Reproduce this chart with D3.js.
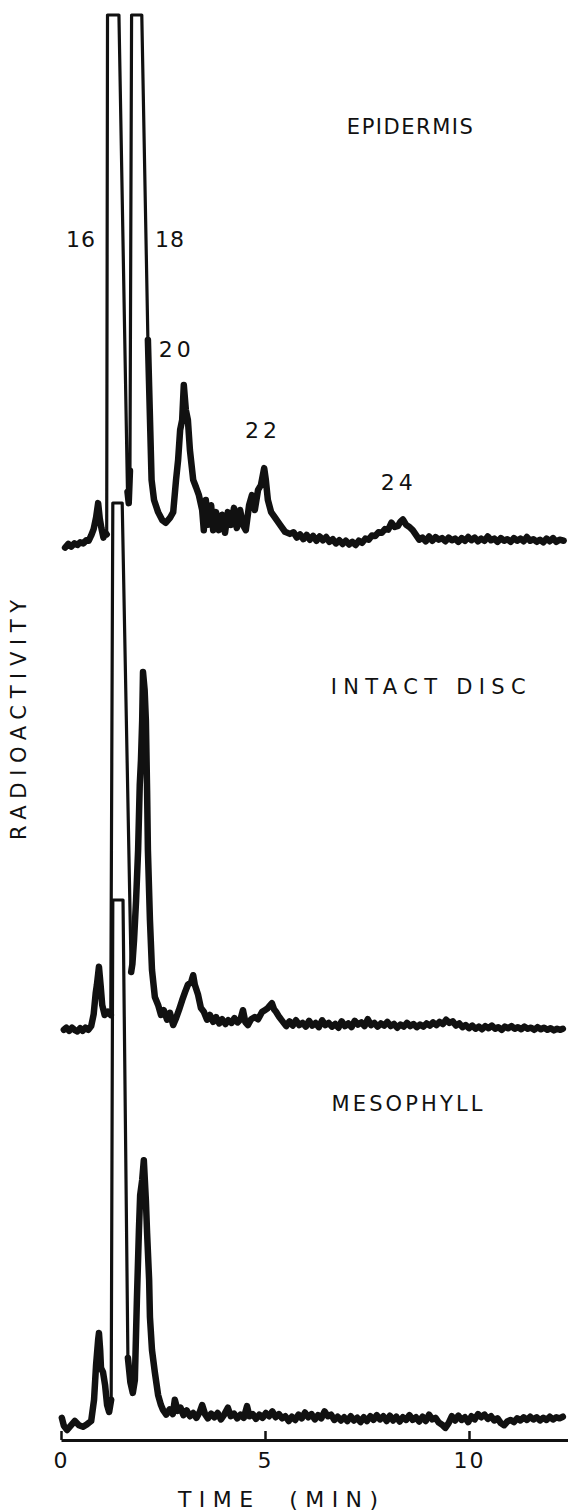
<!DOCTYPE html>
<html>
<head>
<meta charset="utf-8">
<script src="https://cdn.jsdelivr.net/npm/d3@7"></script>
<style>
  body { margin: 0; background: #fff; }
  svg { display: block; }
  text { font-family: "DejaVu Sans", sans-serif; fill: #111; }
</style>
</head>
<body>
<svg id="chart"></svg>
<script>
// radio-GLC traces, time (min) vs relative radioactivity (100 = pen at full scale)
const epidermis = [
  [0.10,-0.5],[0.18,0.2],[0.25,-0.3],[0.33,0.3],[0.40,0.0],[0.47,0.5],[0.55,0.3],[0.62,0.9],[0.68,0.8],
  [0.74,1.8],[0.80,3.0],[0.86,5.2],[0.91,7.9],[0.95,5.0],[0.99,3.2],[1.04,1.4],[1.08,2.4],[1.12,2.0],
  [1.14,100],[1.42,100],[1.63,10],[1.66,7.9],[1.69,14],[1.73,100],[1.98,100],
  [2.13,38.7],[2.22,12.3],[2.28,8.5],[2.38,6.2],[2.48,4.7],[2.57,4.2],[2.67,5.1],[2.75,6.2],[2.82,12.3],
  [2.87,16],[2.92,21.7],[2.97,23.6],[3.01,30.2],[3.06,25.5],[3.11,23.6],[3.16,17.9],[3.24,12.3],[3.31,10.9],
  [3.38,9.4],[3.46,6.6],[3.50,2.8],[3.55,8.5],[3.60,3.8],[3.68,7.5],[3.73,2.8],[3.80,6.2],[3.87,2.8],
  [3.95,5.7],[4.02,2.3],[4.09,6.2],[4.17,3.8],[4.24,7.0],[4.31,3.2],[4.39,6.6],[4.46,3.8],[4.53,2.8],
  [4.61,7.5],[4.68,9.4],[4.75,6.6],[4.83,10.4],[4.90,11.3],[4.98,14.5],[5.02,12.3],[5.07,8.5],[5.15,6.2],
  [5.25,5.1],[5.37,3.8],[5.49,2.5],[5.61,2.1],[5.70,2.4],[5.78,1.4],[5.86,2.0],[5.94,1.1],[6.02,1.9],
  [6.10,1.0],[6.18,1.7],[6.26,0.8],[6.34,1.6],[6.42,0.9],[6.50,1.5],[6.58,0.6],[6.66,1.1],[6.74,0.3],
  [6.82,0.9],[6.90,0.2],[6.98,0.8],[7.06,0.1],[7.14,0.6],[7.22,0.0],[7.30,0.8],[7.38,0.4],[7.46,1.2],
  [7.54,1.0],[7.62,1.8],[7.70,1.7],[7.78,2.4],[7.86,2.3],[7.94,3.0],[8.02,2.9],[8.10,4.2],[8.18,3.4],
  [8.26,3.6],[8.32,4.4],[8.38,4.8],[8.46,3.8],[8.54,3.4],[8.62,2.8],[8.70,1.9],[8.78,1.0],[8.86,1.4],
  [8.94,0.7],[9.02,1.6],[9.10,0.8],[9.18,1.5],[9.26,1.0],[9.34,1.3],[9.42,0.7],[9.50,1.4],[9.58,0.9],
  [9.66,1.2],[9.74,0.6],[9.82,1.3],[9.90,0.8],[9.98,1.5],[10.06,0.9],[10.14,1.4],[10.22,0.7],[10.30,1.2],
  [10.38,0.8],[10.46,1.6],[10.54,0.9],[10.62,1.2],[10.70,0.6],[10.78,1.3],[10.86,0.8],[10.94,1.1],
  [11.02,0.6],[11.10,1.3],[11.18,0.8],[11.26,1.2],[11.34,0.7],[11.42,1.5],[11.50,0.8],[11.58,1.1],
  [11.66,0.6],[11.74,1.0],[11.82,0.5],[11.90,1.2],[11.98,0.7],[12.06,1.3],[12.14,0.6],[12.22,1.0],[12.32,0.8]
];

const intactDisc = [
  [0.07,0.6],[0.13,1.0],[0.20,0.4],[0.27,1.0],[0.33,0.6],[0.40,0.3],[0.47,0.9],[0.53,0.4],[0.60,1.0],
  [0.67,0.6],[0.74,1.3],[0.80,3.5],[0.85,7.5],[0.88,9.1],[0.93,12.5],[0.97,9.1],[1.01,5.3],[1.07,3.4],
  [1.15,4.0],[1.22,3.4],
  [1.27,100],[1.50,100],[1.72,11.5],[1.75,13],[1.79,17.5],[1.84,25],[1.89,34.5],[1.93,46.8],[1.96,51.5],
  [1.99,59],[2.01,68.1],[2.05,64.7],[2.08,59],[2.11,45.8],[2.13,34.5],[2.18,21.3],[2.23,11.9],[2.30,6.8],
  [2.38,5.3],[2.45,3.4],[2.52,4.3],[2.60,2.5],[2.67,3.8],[2.75,1.5],[2.82,2.8],[2.89,4.3],[2.97,6.2],
  [3.04,7.7],[3.11,9.1],[3.19,9.6],[3.24,10.9],[3.28,9.1],[3.36,7.2],[3.43,4.7],[3.50,4.0],[3.58,2.5],
  [3.65,3.4],[3.73,2.1],[3.80,3.0],[3.88,1.8],[3.95,2.6],[4.03,1.7],[4.10,2.4],[4.18,1.9],[4.25,2.8],
  [4.33,2.0],[4.40,2.6],[4.46,4.3],[4.52,2.0],[4.58,1.5],[4.66,2.6],[4.75,3.0],[4.83,2.6],[4.93,4.0],
  [5.00,4.3],[5.07,4.7],[5.12,5.2],[5.17,5.6],[5.22,4.5],[5.27,4.0],[5.35,3.0],[5.44,2.1],[5.52,1.3],
  [5.60,2.2],[5.68,1.4],[5.76,2.4],[5.84,1.5],[5.92,1.9],[6.00,1.2],[6.08,2.3],[6.16,1.4],[6.24,1.9],
  [6.32,1.1],[6.40,2.4],[6.48,1.5],[6.56,1.9],[6.64,1.2],[6.72,1.7],[6.80,1.0],[6.88,2.2],[6.96,1.3],
  [7.04,1.8],[7.12,1.1],[7.20,2.3],[7.28,1.6],[7.36,2.0],[7.44,1.3],[7.52,2.6],[7.60,1.5],[7.68,1.9],
  [7.76,1.2],[7.84,1.8],[7.92,1.4],[8.00,2.1],[8.08,1.3],[8.16,1.7],[8.24,1.0],[8.32,1.6],[8.40,1.2],
  [8.48,1.9],[8.56,1.3],[8.64,1.7],[8.72,1.1],[8.80,1.6],[8.88,1.2],[8.96,1.8],[9.04,1.4],[9.12,2.0],
  [9.20,1.5],[9.28,2.1],[9.36,1.7],[9.44,2.5],[9.52,1.9],[9.60,2.2],[9.68,1.4],[9.76,1.8],[9.84,1.1],
  [9.92,1.5],[10.00,0.9],[10.08,1.4],[10.16,0.8],[10.24,1.2],[10.32,0.7],[10.40,1.3],[10.48,0.9],
  [10.56,1.4],[10.64,0.8],[10.72,1.1],[10.80,0.6],[10.88,1.2],[10.96,0.9],[11.04,1.3],[11.12,0.8],
  [11.20,1.1],[11.28,0.7],[11.36,1.2],[11.44,0.8],[11.52,1.0],[11.60,0.6],[11.68,1.1],[11.76,0.7],
  [11.84,1.0],[11.92,0.6],[12.00,0.9],[12.08,0.5],[12.16,0.8],[12.24,0.6],[12.30,0.8]
];

const mesophyll = [
  [0.02,2.3],[0.07,0.8],[0.15,0.0],[0.25,0.9],[0.34,1.7],[0.44,0.9],[0.54,0.6],[0.64,1.1],[0.74,1.7],
  [0.81,5.7],[0.86,12.3],[0.91,17],[0.93,18.3],[0.96,15.1],[0.98,11.7],[1.03,10.9],[1.08,8.5],[1.13,4.7],
  [1.18,3.4],[1.23,5.7],
  [1.27,100],[1.52,100],[1.64,13.6],[1.70,9.0],[1.76,7.0],[1.81,9.4],[1.86,24.5],[1.91,37.7],[1.94,44.3],
  [1.99,47.2],[2.03,50.9],[2.08,43.4],[2.11,37.2],[2.16,28.3],[2.18,21.3],[2.23,15.1],[2.30,10.9],
  [2.38,6.6],[2.45,4.7],
  [2.50,3.8],[2.58,2.9],[2.66,3.9],[2.74,3.0],[2.79,5.7],[2.86,3.6],[2.93,4.2],[3.00,2.8],[3.08,3.7],
  [3.16,2.6],[3.24,3.2],[3.32,2.3],[3.40,3.4],[3.46,4.7],[3.53,3.0],[3.60,2.2],[3.68,3.1],[3.76,2.4],
  [3.84,3.2],[3.92,2.0],[4.00,2.9],[4.09,4.2],[4.16,2.6],[4.24,3.1],[4.32,2.2],[4.40,2.9],[4.48,2.3],
  [4.56,4.5],[4.62,2.6],[4.70,3.0],[4.78,2.1],[4.86,2.9],[4.94,2.3],[5.02,3.2],[5.10,2.6],[5.18,3.5],
  [5.26,2.4],[5.34,3.0],[5.42,2.2],[5.50,2.6],[5.58,1.7],[5.66,2.5],[5.74,1.9],[5.82,2.9],[5.90,2.2],
  [5.98,3.3],[6.06,2.4],[6.14,3.0],[6.22,2.0],[6.30,2.8],[6.38,2.2],[6.46,3.5],[6.54,2.6],[6.62,2.9],
  [6.70,1.9],[6.78,2.5],[6.86,1.8],[6.94,2.4],[7.02,1.7],[7.10,2.6],[7.18,1.8],[7.26,2.3],[7.34,1.5],
  [7.42,2.4],[7.50,1.7],[7.58,2.6],[7.66,1.9],[7.74,2.8],[7.82,2.0],[7.90,2.6],[7.98,1.7],[8.06,2.7],
  [8.14,1.8],[8.22,2.5],[8.30,1.6],[8.38,2.4],[8.46,1.9],[8.54,2.8],[8.62,1.9],[8.70,2.4],[8.78,1.6],
  [8.86,2.5],[8.94,1.7],[9.02,2.9],[9.10,2.0],[9.18,2.3],[9.26,1.4],[9.34,1.0],[9.42,0.4],[9.50,1.3],
  [9.58,2.6],[9.66,1.8],[9.74,2.7],[9.82,1.9],[9.90,2.4],[9.98,1.5],[10.06,2.6],[10.14,2.0],[10.22,3.0],
  [10.30,2.4],[10.38,2.9],[10.46,2.1],[10.54,2.6],[10.62,1.8],[10.70,2.2],[10.78,1.3],[10.86,0.9],
  [10.94,1.6],[11.02,1.9],[11.10,1.5],[11.18,2.2],[11.26,1.8],[11.34,2.4],[11.42,1.9],[11.50,2.5],
  [11.58,2.0],[11.66,2.4],[11.74,1.8],[11.82,2.3],[11.90,1.9],[11.98,2.5],[12.06,2.0],[12.14,2.4],
  [12.22,2.2],[12.30,2.5]
];

const panelNames = ["EPIDERMIS", "INTACT DISC", "MESOPHYLL"];
// where the panel name sits, in (time, value) of its own panel
const panelNameAt = [[8.55, 77.5], [9.0, 64], [8.48, 60.2]];

const peakLabels = ["16", "18", "20", "22", "24"];
const peakLabelAt = [[0.49, 56.2], [2.67, 56.2], [2.84, 35.5], [4.95, 20.2], [8.28, 10.4]];

const xTicks = [0, 5, 10];
const xTitle = "TIME  (MIN)";
const yTitle = "RADIOACTIVITY";

// layout
const W = 568, H = 1511;
const axisY = 1440;
const baselines = [545, 1033, 1430];   // pixel row of value 0 in each panel
const fullScale = 530;                 // px for 100 units
const nameWidths = [126, 195, 151];

const svg = d3.select("#chart").attr("width", W).attr("height", H);
svg.append("rect").attr("width", W).attr("height", H).attr("fill", "#fff");

const x = d3.scaleLinear().domain([0, 10]).range([61, 469]);

const yScales = baselines.map(b => d3.scaleLinear().domain([0, 100]).range([b, b - fullScale]));

const traces = [epidermis, intactDisc, mesophyll];

traces.forEach(function(data, i) {
    let y = yScales[i];
    let line = d3.line()
        .x(d => x(d[0]))
        .y(d => y(d[1]));

    // fast pen strokes up to full scale come out thin
    svg.append("path")
        .datum(data)
        .attr("d", line)
        .attr("fill", "none")
        .attr("stroke", "#111")
        .attr("stroke-width", 3.2)
        .attr("stroke-linejoin", "round")
        .attr("stroke-linecap", "round");

    // slow parts of the trace are heavier
    svg.append("path")
        .datum(data)
        .attr("d", line.defined(d => d[1] < 90))
        .attr("fill", "none")
        .attr("stroke", "#111")
        .attr("stroke-width", 6.5)
        .attr("stroke-linejoin", "round")
        .attr("stroke-linecap", "round");

    svg.append("text")
        .attr("x", x(panelNameAt[i][0]))
        .attr("y", y(panelNameAt[i][1]))
        .attr("text-anchor", "middle")
        .attr("font-size", 21)
        .attr("textLength", nameWidths[i])
        .attr("lengthAdjust", "spacing")
        .style("white-space", "pre")
        .text(panelNames[i]);
});

// peak numbers (chain length) on the epidermis trace
svg.selectAll(".peak")
    .data(peakLabels)
    .enter().append("text")
    .attr("class", "peak")
    .attr("x", (d, i) => x(peakLabelAt[i][0]))
    .attr("y", (d, i) => yScales[0](peakLabelAt[i][1]))
    .attr("text-anchor", "middle")
    .attr("font-size", 22)
    .attr("letter-spacing", d => d[0] === "1" ? 1 : 4)
    .text(d => d);

// x axis, ticks pointing up
const xAxis = d3.axisBottom(x.copy().domain([0, (W - 61) / 40.8]).range([61, W]))
    .tickValues(xTicks)
    .tickSizeInner(-9)
    .tickSizeOuter(0)
    .tickPadding(12)
    .tickFormat(d3.format("d"));

const gx = svg.append("g")
    .attr("transform", "translate(0," + axisY + ")")
    .call(xAxis);
gx.select(".domain").attr("stroke", "#111").attr("stroke-width", 3);
gx.selectAll(".tick line").attr("stroke", "#111").attr("stroke-width", 2.5);
gx.selectAll(".tick text")
    .attr("font-size", 22)
    .attr("font-family", "DejaVu Sans, sans-serif")
    .attr("letter-spacing", 2)
    .attr("fill", "#111");

svg.append("text")
    .attr("x", 278)
    .attr("y", 1507)
    .attr("text-anchor", "middle")
    .attr("font-size", 22)
    .attr("textLength", 200)
    .attr("lengthAdjust", "spacing")
    .style("white-space", "pre")
    .text(xTitle);

svg.append("text")
    .attr("transform", "translate(26,720) rotate(-90)")
    .attr("text-anchor", "middle")
    .attr("font-size", 21)
    .attr("textLength", 240)
    .attr("lengthAdjust", "spacing")
    .text(yTitle);
</script>
</body>
</html>
